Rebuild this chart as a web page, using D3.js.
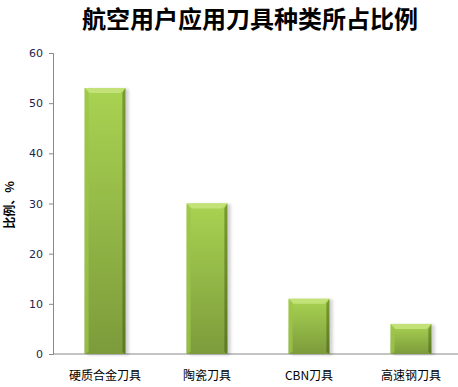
<!DOCTYPE html>
<html>
<head>
<meta charset="utf-8">
<script src="https://cdn.jsdelivr.net/npm/d3@7"></script>
<style>
  body { margin: 0; background: #fff; }
  svg { display: block; }
</style>
</head>
<body>
<svg id="chart" width="458" height="387"></svg>
<script>
// chart data
const categories = ['硬质合金刀具', '陶瓷刀具', 'CBN刀具', '高速钢刀具'];
const shares = [53, 30, 11, 6];
const yTicks = [0, 10, 20, 30, 40, 50, 60];

const svg = d3.select('#chart'),
  width = +svg.attr('width'),
  height = +svg.attr('height');

const margin = {top: 53, bottom: 33, left: 53};

// band range runs a little past the right edge, like the original
const x = d3.scaleBand()
  .domain(categories)
  .range([margin.left, 463])
  .paddingInner(0.6)
  .paddingOuter(0.31);

const y = d3.scaleLinear()
  .domain([0, 60])
  .range([height - margin.bottom, margin.top]);

// gradients for the bevelled bars
const defs = svg.append('defs');
const body = defs.append('linearGradient').attr('id', 'barBody')
  .attr('x1', 0).attr('y1', 0).attr('x2', 0).attr('y2', 1);
body.append('stop').attr('offset', '0%').attr('stop-color', '#a9d352');
body.append('stop').attr('offset', '100%').attr('stop-color', '#7c9b3b');

const side = defs.append('linearGradient').attr('id', 'barSide')
  .attr('x1', 0).attr('y1', 0).attr('x2', 0).attr('y2', 1);
side.append('stop').attr('offset', '0%').attr('stop-color', '#789a30');
side.append('stop').attr('offset', '100%').attr('stop-color', '#5e7a26');

const shadow = defs.append('filter').attr('id', 'shadow')
  .attr('x', '-20%').attr('y', '-5%').attr('width', '150%').attr('height', '110%');
shadow.append('feDropShadow')
  .attr('dx', 3).attr('dy', 1).attr('stdDeviation', 1.5)
  .attr('flood-color', '#000').attr('flood-opacity', 0.18);

// title
svg.append('text')
  .attr('x', 250)
  .attr('y', 28)
  .attr('text-anchor', 'middle')
  .style('font-family', '"Noto Sans CJK SC", sans-serif')
  .style('font-weight', 'bold')
  .style('font-size', '24px')
  .style('fill', '#000')
  .text('航空用户应用刀具种类所占比例');

// y axis
const yAxis = svg.append('g')
  .attr('transform', 'translate(' + margin.left + ',0)')
  .call(d3.axisLeft(y).tickValues(yTicks).tickSize(4).tickPadding(6));
yAxis.select('.domain').attr('stroke', '#888');
yAxis.selectAll('.tick line').attr('stroke', '#888');
yAxis.selectAll('.tick text')
  .style('font-family', '"DejaVu Sans", Verdana, sans-serif')
  .style('font-size', '11px')
  .style('fill', '#1f1f4a');

// x axis baseline
svg.append('line')
  .attr('x1', margin.left)
  .attr('x2', width)
  .attr('y1', y(0))
  .attr('y2', y(0))
  .attr('stroke', '#888');

// y label
svg.append('text')
  .attr('transform', 'translate(14,' + 205 + ') rotate(-90)')
  .attr('text-anchor', 'middle')
  .style('font-family', '"Noto Sans CJK SC", sans-serif')
  .style('font-weight', 'bold')
  .style('font-size', '12px')
  .text('比例、%');

// bars
const bars = svg.append('g').selectAll('g')
  .data(categories)
  .join('g')
  .attr('filter', 'url(#shadow)');

bars.append('rect')
  .attr('x', d => x(d))
  .attr('y', (d, i) => y(shares[i]))
  .attr('width', x.bandwidth())
  .attr('height', (d, i) => y(0) - y(shares[i]))
  .attr('fill', 'url(#barBody)');

// bevel: top highlight
bars.append('path')
  .attr('d', (d, i) => {
    const x0 = x(d), x1 = x0 + x.bandwidth(), t = y(shares[i]), b = 5;
    return 'M' + x0 + ',' + t + 'L' + x1 + ',' + t + 'L' + (x1 - b) + ',' + (t + b) + 'L' + (x0 + b) + ',' + (t + b) + 'Z';
  })
  .attr('fill', '#c2e277');

// bevel: left edge
bars.append('path')
  .attr('d', (d, i) => {
    const x0 = x(d), t = y(shares[i]), bt = y(0), b = 4;
    return 'M' + x0 + ',' + t + 'L' + (x0 + b) + ',' + (t + 5) + 'L' + (x0 + b) + ',' + (bt - 2) + 'L' + x0 + ',' + bt + 'Z';
  })
  .attr('fill', '#9cc44a')
  .attr('opacity', 0.8);

// bevel: right edge
bars.append('path')
  .attr('d', (d, i) => {
    const x1 = x(d) + x.bandwidth(), t = y(shares[i]), bt = y(0), b = 3;
    return 'M' + x1 + ',' + t + 'L' + (x1 - b) + ',' + (t + 5) + 'L' + (x1 - b) + ',' + (bt - 2) + 'L' + x1 + ',' + bt + 'Z';
  })
  .attr('fill', 'url(#barSide)');

// category labels
svg.append('g').selectAll('text')
  .data(categories)
  .join('text')
  .attr('x', d => x(d) + x.bandwidth() / 2)
  .attr('y', 380)
  .attr('text-anchor', 'middle')
  .style('font-family', '"Noto Sans CJK SC", sans-serif')
  .style('font-size', '12px')
  .style('fill', '#000')
  .text(d => d);
</script>
</body>
</html>
